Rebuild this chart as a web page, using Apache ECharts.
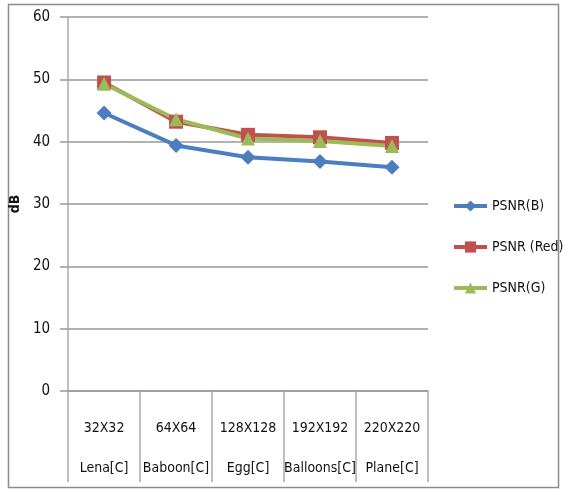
<!DOCTYPE html>
<html>
<head>
<meta charset="utf-8">
<style>
  html, body { margin: 0; padding: 0; background: #fff; }
  #chart { width: 563px; height: 489px; }
</style>
<script src="https://cdn.jsdelivr.net/npm/echarts@6/dist/echarts.min.js"></script>
</head>
<body>
<div id="chart"></div>
<script>
// Image sizes and test images
const sizes = ['32X32', '64X64', '128X128', '192X192', '220X220'];
const images = ['Lena[C]', 'Baboon[C]', 'Egg[C]', 'Balloons[C]', 'Plane[C]'];

// PSNR per colour channel (dB)
const psnrB = [44.6, 39.4, 37.5, 36.8, 35.9];
const psnrRed = [49.5, 43.2, 41.1, 40.7, 39.8];
const psnrG = [49.3, 43.6, 40.5, 40.1, 39.3];

const categories = sizes.map((s, i) => s + '\n\n' + images[i]);
const FONT = '"DejaVu Sans Condensed", "Liberation Sans Narrow", sans-serif';

const chart = echarts.init(document.getElementById('chart'));

function lineSeries(name, data, color, symbol, size) {
  return {
    name: name,
    type: 'line',
    data: data,
    symbol: symbol,
    symbolSize: size,
    lineStyle: { color: color, width: 4 },
    itemStyle: { color: color },
    z: 3
  };
}

chart.setOption({
  animation: false,
  textStyle: { fontFamily: FONT },
  grid: { left: 67, top: 17, right: 135, bottom: 98, containLabel: false },
  graphic: [{
    type: 'rect',
    shape: { x: 8.5, y: 4.5, width: 550, height: 483 },
    style: { fill: 'none', stroke: '#8c8c8c', lineWidth: 1.5 },
    silent: true,
    z: -10
  }],
  legend: {
    orient: 'vertical',
    left: 447,
    top: 194,
    itemGap: 27,
    itemWidth: 33,
    itemHeight: 14,
    lineStyle: { width: 4 },
    textStyle: { fontFamily: FONT, fontSize: 14, color: '#111' },
    data: ['PSNR(B)', 'PSNR (Red)', 'PSNR(G)']
  },
  xAxis: {
    type: 'category',
    data: categories,
    boundaryGap: true,
    axisLine: { show: true, lineStyle: { color: '#999', width: 1.5 } },
    axisTick: { show: true, length: 91, interval: 0, lineStyle: { color: '#aaa', width: 1.5 } },
    axisLabel: {
      interval: 0,
      margin: 27,
      fontFamily: FONT,
      fontSize: 14,
      color: '#111',
      lineHeight: 20
    },
    splitLine: { show: false }
  },
  yAxis: {
    type: 'value',
    min: 0,
    max: 60,
    interval: 10,
    name: 'dB',
    nameLocation: 'middle',
    nameRotate: 90,
    nameGap: 42,
    nameTextStyle: { fontFamily: FONT, fontSize: 14, fontWeight: 'bold', color: '#111' },
    axisLine: { show: true, lineStyle: { color: '#aaa', width: 1.5 } },
    axisTick: { show: true, length: 8, lineStyle: { color: '#999', width: 1.5 } },
    axisLabel: { margin: 18, fontFamily: FONT, fontSize: 15, color: '#111' },
    splitLine: { show: true, lineStyle: { color: '#999', width: 1.5 } }
  },
  series: [
    lineSeries('PSNR(B)', psnrB, '#4a7ebf', 'diamond', 15),
    lineSeries('PSNR (Red)', psnrRed, '#c0504d', 'rect', 14),
    lineSeries('PSNR(G)', psnrG, '#9bbb59', 'triangle', 14)
  ]
});
</script>
</body>
</html>
